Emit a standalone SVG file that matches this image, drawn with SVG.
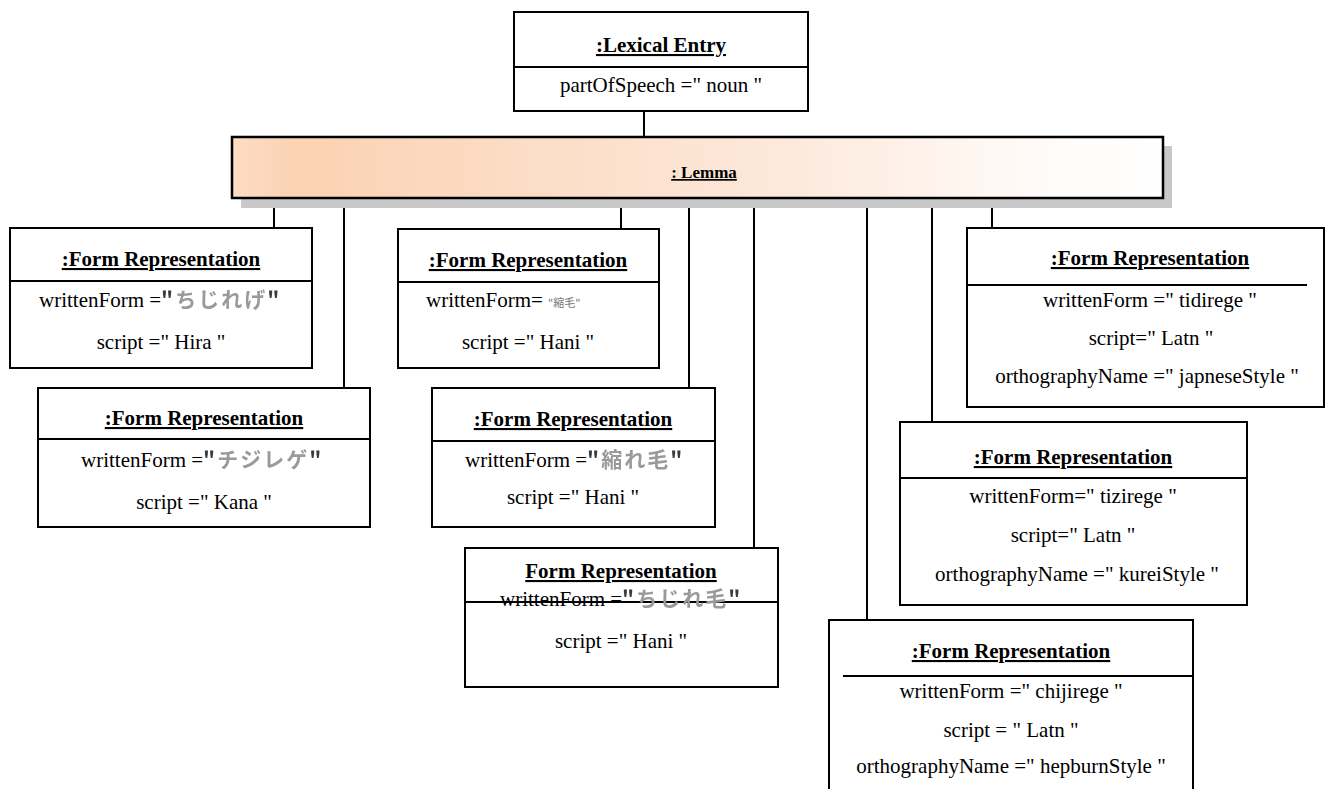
<svg xmlns="http://www.w3.org/2000/svg" width="1325" height="789" viewBox="0 0 1325 789">
  <defs>
    <linearGradient id="lemmaFill" x1="0" y1="0" x2="1" y2="0">
      <stop offset="0" stop-color="#fcdcc4"/>
      <stop offset="0.07" stop-color="#fbd2b2"/>
      <stop offset="0.6" stop-color="#fde9dc"/>
      <stop offset="0.85" stop-color="#fffaf7"/>
      <stop offset="1" stop-color="#ffffff"/>
    </linearGradient>
    <filter id="soft" x="-5%" y="-20%" width="110%" height="140%">
      <feGaussianBlur stdDeviation="0.5"/>
    </filter>
    <style>
      .box { fill: #ffffff; stroke: #000000; stroke-width: 2; }
      .div { stroke: #000000; stroke-width: 2; }
      .link { stroke: #000000; stroke-width: 2; fill: none; }
      .title { font-family: "Liberation Serif", "Times New Roman", serif; font-size: 21px; font-weight: bold; text-decoration: underline; text-anchor: middle; fill: #000; }
      .attr { font-family: "Liberation Serif", "Times New Roman", serif; font-size: 21px; fill: #000; }
      .mid { text-anchor: middle; }
      .jp { font-family: "Noto Sans CJK JP", "Noto Sans CJK SC", sans-serif; font-size: 21px; font-weight: bold; fill: #9a9a9a; letter-spacing: 2px; filter: url(#soft); }
      .jps { font-family: "Noto Sans CJK JP", "Noto Sans CJK SC", sans-serif; font-size: 11px; fill: #777777; }
      .q { fill: #3a3a3a; }
    </style>
  </defs>

  <!-- connectors -->
  <g id="connectors">
    <line class="link" x1="644" y1="111" x2="644" y2="137"/>
    <line class="link" x1="274" y1="198" x2="274" y2="228"/>
    <line class="link" x1="344" y1="198" x2="344" y2="388"/>
    <line class="link" x1="621" y1="198" x2="621" y2="229"/>
    <line class="link" x1="689" y1="198" x2="689" y2="388"/>
    <line class="link" x1="754" y1="198" x2="754" y2="548"/>
    <line class="link" x1="867" y1="198" x2="867" y2="620"/>
    <line class="link" x1="932" y1="198" x2="932" y2="422"/>
    <line class="link" x1="992" y1="198" x2="992" y2="228"/>
  </g>

  <!-- lexical entry -->
  <g id="lexical-entry">
    <rect class="box" x="514" y="12" width="294" height="99"/>
    <line class="div" x1="514" y1="67" x2="808" y2="67"/>
    <text class="title" x="661" y="52">:Lexical Entry</text>
    <text class="attr mid" x="661" y="92">partOfSpeech =" noun "</text>
  </g>

  <!-- lemma -->
  <g id="lemma">
    <rect x="241" y="146" width="931" height="62" fill="#c8c8c8"/>
    <rect x="232" y="137" width="931" height="61" fill="url(#lemmaFill)" stroke="#000" stroke-width="2.5"/>
    <text class="title" x="704" y="178" style="font-size:17px">: Lemma</text>
  </g>

  <!-- form representation: Hira -->
  <g id="form-hira">
    <rect class="box" x="10" y="228" width="302" height="140"/>
    <line class="div" x1="10" y1="281" x2="312" y2="281"/>
    <text class="title" x="161" y="266">:Form Representation</text>
    <text class="attr" x="39" y="307">writtenForm =<tspan class="jp"><tspan class="q">"</tspan>ちじれげ<tspan class="q">"</tspan></tspan></text>
    <text class="attr mid" x="161" y="349">script =" Hira "</text>
  </g>

  <!-- form representation: Kana -->
  <g id="form-kana">
    <rect class="box" x="38" y="388" width="332" height="139"/>
    <line class="div" x1="38" y1="439" x2="370" y2="439"/>
    <text class="title" x="204" y="425">:Form Representation</text>
    <text class="attr" x="81" y="467">writtenForm =<tspan class="jp"><tspan class="q">"</tspan>チジレゲ<tspan class="q">"</tspan></tspan></text>
    <text class="attr mid" x="204" y="509">script =" Kana "</text>
  </g>

  <!-- form representation: Hani (short) -->
  <g id="form-hani-1">
    <rect class="box" x="398" y="229" width="261" height="139"/>
    <line class="div" x1="398" y1="282" x2="659" y2="282"/>
    <text class="title" x="528" y="267">:Form Representation</text>
    <text class="attr" x="426" y="307">writtenForm= <tspan class="jps">"縮毛"</tspan></text>
    <text class="attr mid" x="528" y="349">script =" Hani "</text>
  </g>

  <!-- form representation: Hani (okurigana) -->
  <g id="form-hani-2">
    <rect class="box" x="432" y="388" width="283" height="139"/>
    <line class="div" x1="432" y1="441" x2="715" y2="441"/>
    <text class="title" x="573" y="426">:Form Representation</text>
    <text class="attr" x="465" y="467">writtenForm =<tspan class="jp"><tspan class="q">"</tspan>縮れ毛<tspan class="q">"</tspan></tspan></text>
    <text class="attr mid" x="573" y="504">script =" Hani "</text>
  </g>

  <!-- form representation: Hani (mixed) -->
  <g id="form-hani-3">
    <rect class="box" x="465" y="548" width="313" height="139"/>
    <line class="div" x1="465" y1="602" x2="778" y2="602"/>
    <text class="title" x="621" y="578">Form Representation</text>
    <text class="attr" x="500" y="606">writtenForm =<tspan class="jp"><tspan class="q">"</tspan>ちじれ毛<tspan class="q">"</tspan></tspan></text>
    <text class="attr mid" x="621" y="648">script =" Hani "</text>
  </g>

  <!-- form representation: japneseStyle -->
  <g id="form-latn-japanese">
    <rect class="box" x="967" y="228" width="357" height="179"/>
    <line class="div" x1="967" y1="285" x2="1307" y2="285"/>
    <text class="title" x="1150" y="265">:Form Representation</text>
    <text class="attr mid" x="1150" y="307">writtenForm =" tidirege "</text>
    <text class="attr mid" x="1151" y="345">script=" Latn "</text>
    <text class="attr mid" x="1147" y="383">orthographyName =" japneseStyle "</text>
  </g>

  <!-- form representation: kureiStyle -->
  <g id="form-latn-kurei">
    <rect class="box" x="900" y="422" width="347" height="183"/>
    <line class="div" x1="900" y1="478" x2="1247" y2="478"/>
    <text class="title" x="1073" y="464">:Form Representation</text>
    <text class="attr mid" x="1073" y="503">writtenForm=" tizirege "</text>
    <text class="attr mid" x="1073" y="542">script=" Latn "</text>
    <text class="attr mid" x="1077" y="581">orthographyName =" kureiStyle "</text>
  </g>

  <!-- form representation: hepburnStyle -->
  <g id="form-latn-hepburn">
    <rect class="box" x="829" y="620" width="364" height="185"/>
    <line class="div" x1="843" y1="676" x2="1193" y2="676"/>
    <text class="title" x="1011" y="658">:Form Representation</text>
    <text class="attr mid" x="1011" y="698">writtenForm =" chijirege "</text>
    <text class="attr mid" x="1011" y="737">script = " Latn "</text>
    <text class="attr mid" x="1011" y="773">orthographyName =" hepburnStyle "</text>
  </g>
</svg>
